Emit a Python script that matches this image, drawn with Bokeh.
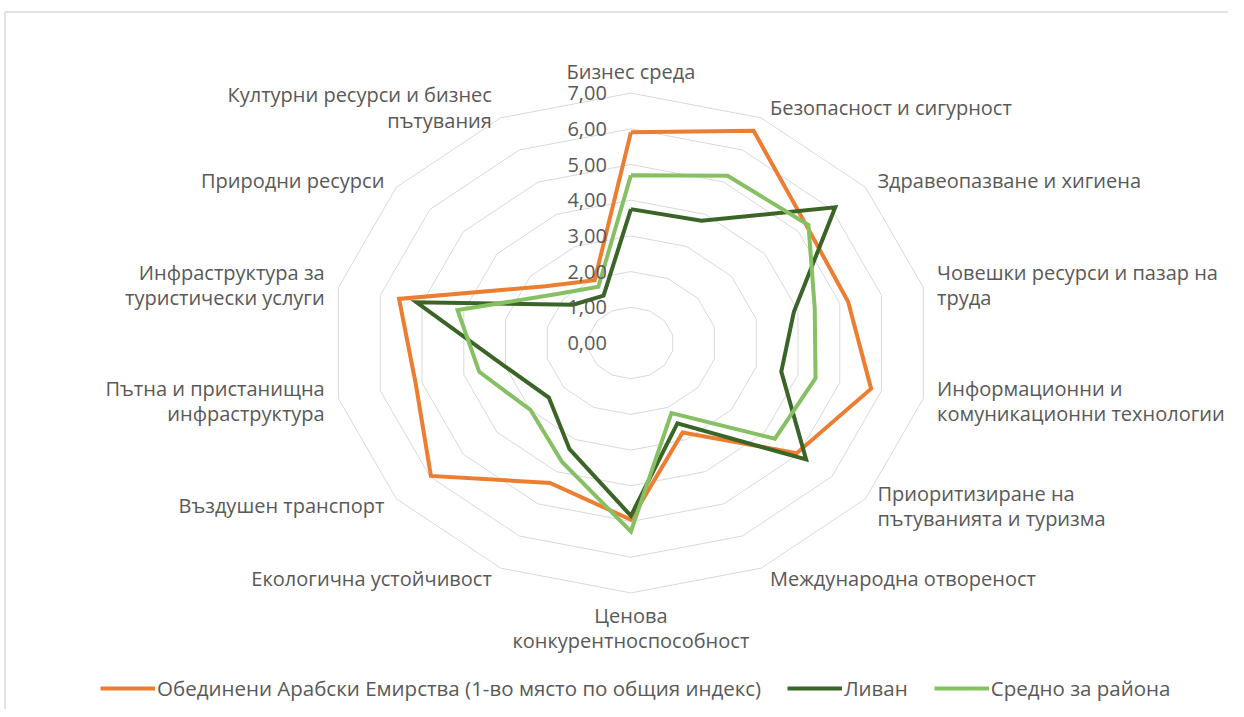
import numpy as np
from bokeh.plotting import figure
from bokeh.models import Range1d, Legend, LegendItem
from bokeh.embed import file_html
from bokeh.resources import INLINE
from bokeh.core.properties import value

# ---------------- data ----------------
categories = [
    "Бизнес среда",
    "Безопасност и сигурност",
    "Здравеопазване и хигиена",
    "Човешки ресурси и пазар на\nтруда",
    "Информационни и\nкомуникационни технологии",
    "Приоритизиране на\nпътуванията и туризма",
    "Международна отвореност",
    "Ценова\nконкурентноспособност",
    "Екологична устойчивост",
    "Въздушен транспорт",
    "Пътна и пристанищна\nинфраструктура",
    "Инфраструктура за\nтуристически услуги",
    "Природни ресурси",
    "Културни ресурси и бизнес\nпътувания",
]
uae = [5.90, 6.60, 5.25, 5.20, 5.75, 4.95, 2.78, 4.95, 4.35, 5.97, 5.15, 5.55, 2.55, 1.95]
lebanon = [3.75, 3.80, 6.10, 3.90, 3.60, 5.23, 2.50, 4.84, 3.30, 2.45, 3.00, 5.13, 1.72, 1.47]
region_avg = [4.70, 5.20, 5.30, 4.40, 4.42, 4.30, 2.18, 5.28, 3.70, 3.00, 3.63, 4.15, 2.20, 1.75]
series_names = [
    "Обединени Арабски Емирства (1-во място по общия индекс)",
    "Ливан",
    "Средно за района",
]
tick_values = [0, 1, 2, 3, 4, 5, 6, 7]
tick_labels = ["0,00", "1,00", "2,00", "3,00", "4,00", "5,00", "6,00", "7,00"]

# ---------------- layout / style ----------------
W, H = 1228, 709
CX, CY = 630.4, 342.5       # chart centre in canvas pixels
UX, UY = 42.85, 35.7        # pixels per unit (x is stretched like the reference)
x_start = -CX / UX
x_end = x_start + W / UX
y_end = CY / UY
y_start = y_end - H / UY

GRID = "#d9d9d9"
TEXT = "#595959"
FONT = "Open Sans"
colors = ["#ED7D31", "#3B6427", "#86C062"]

p = figure(width=W, height=H, x_range=Range1d(x_start, x_end), y_range=Range1d(y_start, y_end),
           x_axis_type=None, y_axis_type=None, output_backend="svg", toolbar_location=None,
           min_border=0, outline_line_color=None)
p.grid.visible = False
p.background_fill_color = "white"

n = len(categories)
theta = 2 * np.pi * np.arange(n) / n
s, c = np.sin(theta), np.cos(theta)

# outer chart-area border (top and left edges visible in the reference)
bx = x_start + 4.5 / UX
by = y_end - 11.5 / UY
p.line([bx, bx, x_end + 1], [y_start - 1, by, by], line_color=GRID, line_width=1.5)

# rings
for lv in tick_values[1:]:
    p.line(list(lv * s) + [lv * s[0]], list(lv * c) + [lv * c[0]], line_color=GRID, line_width=1)

# series
renderers = []
for vals, col in zip([uae, lebanon, region_avg], colors):
    v = np.array(vals)
    xs = list(v * s) + [v[0] * s[0]]
    ys = list(v * c) + [v[0] * c[0]]
    r = p.line(xs, ys, line_color=col, line_width=4, line_join="miter")
    renderers.append(r)

# radial tick labels
p.text(x=[0] * len(tick_values), y=tick_values, text=tick_labels, x_offset=-24,
       text_align="right", text_baseline="middle", text_font=value(FONT),
       text_font_size="20px", text_color=TEXT)

# category labels
rmax = tick_values[-1]
groups = {"left": [], "right": [], "center": []}
for k in range(n):
    if s[k] > 0.01:
        groups["left"].append(k)
    elif s[k] < -0.01:
        groups["right"].append(k)
    else:
        groups["center"].append(k)
for align, ks in groups.items():
    xo, yo = [], []
    for k in ks:
        if align == "center":
            xo.append(0)
            yo.append(-22 if c[k] > 0 else 35)
        else:
            sign = 1 if align == "left" else -1
            xo.append(sign * (5 + 9 * abs(s[k])))
            yo.append(-11.5 * c[k])
    p.text(x=[rmax * s[k] for k in ks], y=[rmax * c[k] for k in ks], text=[categories[k] for k in ks],
           x_offset=xo, y_offset=yo, text_align=align, text_baseline="middle",
           text_font=value(FONT), text_font_size="20px", text_color=TEXT, text_line_height=0.94)

legend = Legend(items=[LegendItem(label=nm, renderers=[r]) for nm, r in zip(series_names, renderers)],
                orientation="horizontal", location=(100, 7), glyph_width=55, glyph_height=24,
                label_text_font=FONT, label_text_font_size="20.5px", label_text_color=TEXT,
                spacing=26, padding=0, margin=0, label_standoff=2,
                border_line_color=None, background_fill_alpha=0)
p.add_layout(legend)

open("out.html", "w").write(file_html(p, INLINE))
